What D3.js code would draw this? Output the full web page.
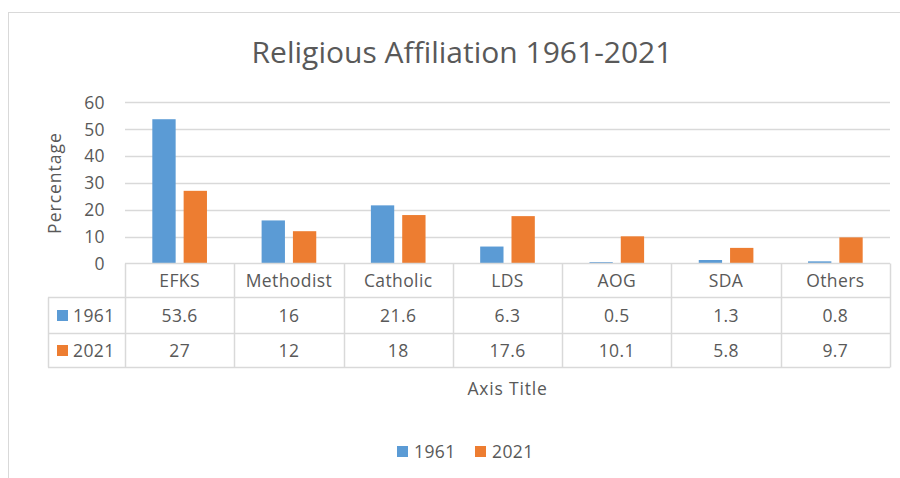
<!DOCTYPE html>
<html>
<head>
<meta charset="utf-8">
<script src="https://cdn.jsdelivr.net/npm/d3@7"></script>
<style>
body { margin: 0; background: #fff; }
text { font-family: "Open Sans", sans-serif; fill: #595959; }
.lbl { font-size: 17.5px; letter-spacing: 0.4px; }
</style>
</head>
<body>
<div class="render"></div>
<script>
"use strict";

var width = 900;
var height = 478;

// data
var categories = ["EFKS", "Methodist", "Catholic", "LDS", "AOG", "SDA", "Others"];
var years = ["1961", "2021"];
var values1961 = [53.6, 16, 21.6, 6.3, 0.5, 1.3, 0.8];
var values2021 = [27, 12, 18, 17.6, 10.1, 5.8, 9.7];
var yTicks = [0, 10, 20, 30, 40, 50, 60];
var colors = ["#5b9bd5", "#ed7d31"];

var series = [values1961, values2021];

var plotLeft = 125, plotRight = 890, plotTop = 102, plotBottom = 263.5;

var svg = d3.select(".render").append("svg").attr("width", width).attr("height", height);

// chart frame
svg.append("rect").attr("x", 8.5).attr("y", 12.5).attr("width", 1000).attr("height", 600)
   .attr("fill", "none").attr("stroke", "#d9d9d9");

svg.append("text").attr("x", 462).attr("y", 63).attr("text-anchor", "middle")
   .style("font-size", "30px").text("Religious Affiliation 1961-2021");

var x0 = d3.scaleBand().domain(categories).range([plotLeft, plotRight]);
var x1 = d3.scaleBand().domain(years).range([x0.bandwidth() * 0.25, x0.bandwidth() * 0.75]).paddingInner(0.255);
var y = d3.scaleLinear().domain([0, 60]).range([plotBottom, plotTop]);

// gridlines
svg.append("g").selectAll("line").data(yTicks.slice(1)).enter().append("line")
   .attr("x1", plotLeft).attr("x2", plotRight)
   .attr("y1", function (d) { return Math.round(y(d)) + 0.5; })
   .attr("y2", function (d) { return Math.round(y(d)) + 0.5; })
   .attr("stroke", "#d9d9d9").attr("stroke-width", 1.3);

// y axis labels
var yAxis = d3.axisLeft(y).tickValues(yTicks).tickSize(0).tickPadding(0);
var ya = svg.append("g").attr("transform", "translate(105,0)").call(yAxis);
ya.select(".domain").remove();
ya.selectAll("text").attr("class", "lbl").attr("font-family", null).attr("fill", "#595959").attr("dy", "0.35em");
ya.attr("font-size", null).attr("font-family", null);

svg.append("text").attr("class", "lbl").attr("transform", "translate(61,183) rotate(-90)")
   .attr("text-anchor", "middle").style("letter-spacing", "1px").text("Percentage");

// bars
svg.append("g").selectAll("g").data(series).enter().append("g")
   .attr("fill", function (d, i) { return colors[i]; })
   .each(function (vals, i) {
      d3.select(this).selectAll("rect").data(vals).enter().append("rect")
         .attr("x", function (d, j) { return x0(categories[j]) + x1(years[i]); })
         .attr("width", x1.bandwidth())
         .attr("y", function (d) { return y(d); })
         .attr("height", function (d) { return plotBottom - y(d); });
   });

// data table
var rowTop = [263.5, 297.5, 333.5, 367.5];
var grid = svg.append("g").attr("stroke", "#d9d9d9").attr("stroke-width", 1.5).attr("fill", "none");
grid.append("line").attr("x1", plotLeft).attr("x2", plotRight).attr("y1", rowTop[0]).attr("y2", rowTop[0]);
grid.selectAll(".h").data(rowTop.slice(1)).enter().append("line")
   .attr("x1", 48).attr("x2", plotRight).attr("y1", function (d) { return d; }).attr("y2", function (d) { return d; });
var colEdges = categories.map(function (c) { return x0(c); }).concat([plotRight]);
grid.selectAll(".v").data(colEdges).enter().append("line")
   .attr("x1", function (d) { return Math.round(d) + 0.5; }).attr("x2", function (d) { return Math.round(d) + 0.5; })
   .attr("y1", rowTop[0]).attr("y2", rowTop[3]);
grid.append("line").attr("x1", 48.5).attr("x2", 48.5).attr("y1", rowTop[1]).attr("y2", rowTop[3]);

var cx = function (c) { return x0(c) + x0.bandwidth() / 2; };
svg.append("g").selectAll("text").data(categories).enter().append("text").attr("class", "lbl")
   .attr("x", cx).attr("y", (rowTop[0] + rowTop[1]) / 2).attr("dy", "0.35em")
   .attr("text-anchor", "middle").text(function (d) { return d; });

series.forEach(function (vals, i) {
   var ym = (rowTop[i + 1] + rowTop[i + 2]) / 2;
   svg.append("g").selectAll("text").data(vals).enter().append("text").attr("class", "lbl")
      .attr("x", function (d, j) { return cx(categories[j]); }).attr("y", ym).attr("dy", "0.35em")
      .attr("text-anchor", "middle").text(function (d) { return d; });
   svg.append("rect").attr("x", 57).attr("y", ym - 5.5).attr("width", 11).attr("height", 11).attr("fill", colors[i]);
   svg.append("text").attr("class", "lbl").attr("x", 73).attr("y", ym).attr("dy", "0.35em").text(years[i]);
});

svg.append("text").attr("class", "lbl").attr("x", (plotLeft + plotRight) / 2).attr("y", 389).attr("dy", "0.35em")
   .attr("text-anchor", "middle").style("letter-spacing", "0.8px").text("Axis Title");

// legend
var legX = [397, 475];
years.forEach(function (yr, i) {
   svg.append("rect").attr("x", legX[i]).attr("y", 446).attr("width", 11).attr("height", 11).attr("fill", colors[i]);
   svg.append("text").attr("class", "lbl").attr("x", legX[i] + 17).attr("y", 452).attr("dy", "0.35em").text(yr);
});
</script>
</body>
</html>
